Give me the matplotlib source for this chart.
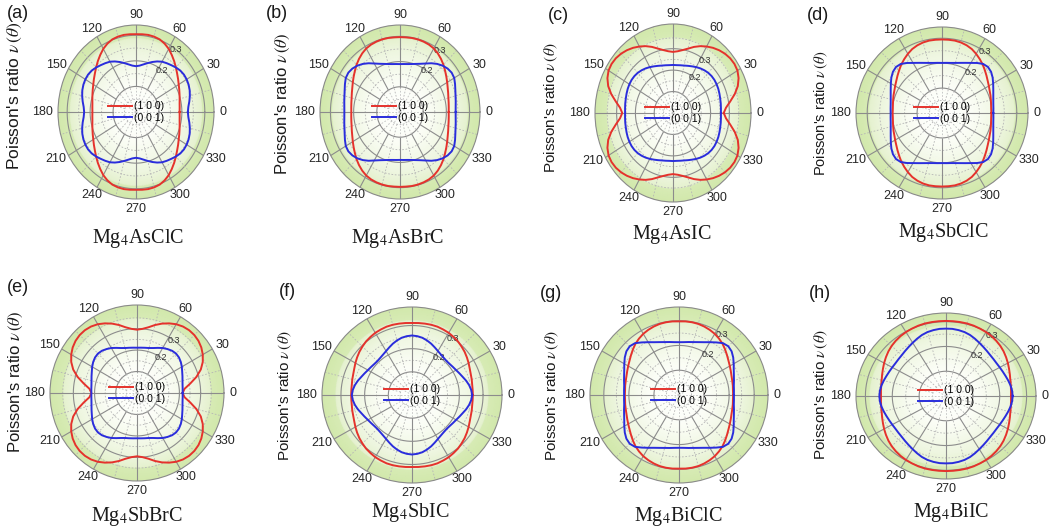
import numpy as np
import matplotlib.pyplot as plt
from matplotlib.colors import LinearSegmentedColormap

plt.rcParams['font.family'] = ['Liberation Sans', 'DejaVu Sans']
plt.rcParams['mathtext.fontset'] = 'stix'

W, H = 1053, 531

# angle grid of the first quadrant (deg); the other quadrants follow by mirror symmetry
angles = np.arange(0, 91, 5)

# Poisson's ratio nu(theta) for loading along (1 0 0) and (0 0 1)
a_100 = [0.190, 0.191, 0.193, 0.197, 0.202, 0.208, 0.215, 0.224, 0.234, 0.246,
         0.259, 0.272, 0.285, 0.295, 0.302, 0.305, 0.306, 0.305, 0.304]
a_001 = [0.226, 0.229, 0.236, 0.243, 0.249, 0.253, 0.255, 0.255, 0.252, 0.246,
         0.239, 0.233, 0.227, 0.218, 0.208, 0.198, 0.189, 0.182, 0.179]
b_100 = [0.210, 0.211, 0.213, 0.216, 0.221, 0.227, 0.235, 0.244, 0.254, 0.265,
         0.275, 0.284, 0.291, 0.295, 0.297, 0.298, 0.298, 0.297, 0.297]
b_001 = [0.240, 0.241, 0.244, 0.248, 0.254, 0.262, 0.270, 0.272, 0.268, 0.260,
         0.249, 0.236, 0.222, 0.211, 0.203, 0.197, 0.193, 0.191, 0.190]
c_100 = [0.270, 0.283, 0.309, 0.340, 0.367, 0.385, 0.396, 0.399, 0.397, 0.391,
         0.382, 0.371, 0.358, 0.344, 0.328, 0.311, 0.298, 0.289, 0.285]
c_001 = [0.255, 0.256, 0.258, 0.260, 0.263, 0.266, 0.268, 0.269, 0.268, 0.265,
         0.260, 0.254, 0.247, 0.240, 0.234, 0.229, 0.226, 0.224, 0.224]
d_100 = [0.198, 0.198, 0.200, 0.203, 0.207, 0.211, 0.217, 0.224, 0.233, 0.243,
         0.254, 0.264, 0.274, 0.283, 0.289, 0.293, 0.295, 0.295, 0.295]
d_001 = [0.206, 0.207, 0.209, 0.213, 0.219, 0.227, 0.237, 0.248, 0.257, 0.261,
         0.257, 0.245, 0.232, 0.222, 0.214, 0.208, 0.204, 0.202, 0.201]
e_100 = [0.215, 0.225, 0.255, 0.290, 0.320, 0.342, 0.358, 0.370, 0.378, 0.382,
         0.382, 0.378, 0.370, 0.358, 0.344, 0.328, 0.311, 0.300, 0.295]
e_001 = [0.215, 0.216, 0.218, 0.222, 0.228, 0.235, 0.244, 0.252, 0.258, 0.260,
         0.257, 0.250, 0.242, 0.232, 0.223, 0.217, 0.214, 0.212, 0.211]
f_100 = [0.257, 0.257, 0.258, 0.261, 0.264, 0.269, 0.276, 0.283, 0.290, 0.296,
         0.302, 0.306, 0.310, 0.312, 0.314, 0.314, 0.313, 0.312, 0.311]
f_001 = [0.254, 0.251, 0.245, 0.237, 0.228, 0.221, 0.215, 0.211, 0.208, 0.207,
         0.209, 0.213, 0.219, 0.227, 0.236, 0.244, 0.251, 0.255, 0.257]
g_100 = [0.216, 0.216, 0.218, 0.220, 0.223, 0.228, 0.234, 0.241, 0.250, 0.260,
         0.270, 0.278, 0.285, 0.290, 0.294, 0.297, 0.298, 0.298, 0.297]
g_001 = [0.219, 0.220, 0.222, 0.227, 0.233, 0.241, 0.252, 0.264, 0.274, 0.278,
         0.273, 0.259, 0.246, 0.235, 0.227, 0.221, 0.217, 0.214, 0.213]
h_100 = [0.242, 0.243, 0.245, 0.248, 0.253, 0.259, 0.266, 0.273, 0.280, 0.286,
         0.291, 0.295, 0.298, 0.300, 0.302, 0.303, 0.303, 0.303, 0.303]
h_001 = [0.248, 0.247, 0.244, 0.240, 0.236, 0.233, 0.231, 0.230, 0.231, 0.233,
         0.237, 0.242, 0.248, 0.255, 0.262, 0.267, 0.270, 0.272, 0.272]

tags = ['(a)', '(b)', '(c)', '(d)', '(e)', '(f)', '(g)', '(h)']
names = ['Mg$_4$AsClC', 'Mg$_4$AsBrC', 'Mg$_4$AsIC', 'Mg$_4$SbClC',
         'Mg$_4$SbBrC', 'Mg$_4$SbIC', 'Mg$_4$BiClC', 'Mg$_4$BiIC']
r_max = [0.34, 0.345, 0.415, 0.345, 0.41, 0.38, 0.355, 0.335]
curves = [(a_100, a_001), (b_100, b_001), (c_100, c_001), (d_100, d_001),
          (e_100, e_001), (f_100, f_001), (g_100, g_001), (h_100, h_001)]

# layout in pixels: circle centre / half axes, y-label, tag and title positions
boxes = [(136, 112, 78, 87), (400, 112, 80, 87), (673, 113, 78, 89), (942, 113, 86, 86),
         (137, 393, 87, 88), (412, 395, 90, 88), (679, 395, 89, 88), (946, 396, 90, 83)]
ylab_pos = [(15, 96), (283, 104), (551, 108), (821, 113),
            (16, 382), (285, 396), (552, 396), (821, 395)]
ylab_size = [12.5, 12, 11, 10.5, 12, 11, 11, 11]
tag_pos = [(18, 14), (277, 14), (558, 15), (818, 15),
           (18, 287), (287, 291), (551, 293), (820, 294)]
title_pos = [(138, 238), (398, 238), (672, 235), (943, 233),
             (137, 517), (410, 513), (678, 517), (951, 512)]

RED = '#e5322c'
BLUE = '#2a2ddc'
bg = LinearSegmentedColormap.from_list(
    'bg', [(0, '#ffffff'), (0.35, '#fbfdf6'), (0.7, '#eef6e0'),
           (0.855, '#e5f1cf'), (0.86, '#d7ebb5'), (1, '#d2e8ac')])


def full_turn(q):
    q = np.asarray(q)
    r = np.concatenate([q, q[-2::-1], q[1:], q[-2::-1]])
    th = np.deg2rad(np.arange(0, 361, 5))
    return th, r


fig = plt.figure(figsize=(W / 100, H / 100), dpi=100)

for i in range(8):
    cx, cy, rx, ry = boxes[i]
    rm = r_max[i]
    ax = fig.add_axes([(cx - rx) / W, 1 - (cy + ry) / H, 2 * rx / W, 2 * ry / H],
                      projection='polar')
    ax.set_aspect('auto')
    ax.set_ylim(0, rm)
    ax.grid(False)
    ax.set_xticks([])
    ax.set_yticks([])
    ax.spines['polar'].set_color('#8a8a8a')
    ax.spines['polar'].set_linewidth(0.8)

    # radial shading
    T, R = np.meshgrid(np.linspace(0, 2 * np.pi, 181), np.linspace(0, rm, 80))
    ax.pcolormesh(T, R, R / rm, cmap=bg, shading='gouraud', zorder=0)

    # grid rings and spokes
    ring = np.linspace(0, 2 * np.pi, 361)
    for k in range(1, 9):
        r = 0.05 * k
        if r >= rm - 0.03:
            break
        if k % 2 == 0:
            ax.plot(ring, np.full_like(ring, r), color='#8c8c8c', lw=0.8, zorder=1)
        else:
            ax.plot(ring, np.full_like(ring, r), color='#b5b5b5', lw=0.6,
                    ls=(0, (2, 2)), zorder=1)
    for deg in range(0, 360, 15):
        t = np.deg2rad(deg)
        if deg % 30 == 0:
            ax.plot([t, t], [0.1, rm], color='#8c8c8c', lw=0.8, zorder=1)
            ax.plot([t, t], [0, 0.1], color='#c0c0c0', lw=0.6, ls=(0, (2, 2)), zorder=1)
        else:
            ax.plot([t, t], [0.05, rm], color='#b5b5b5', lw=0.6, ls=(0, (2, 2)), zorder=1)

    for val in (0.2, 0.3):
        ax.text(np.deg2rad(55), val, f'{val:.1f}', fontsize=6.5, ha='center',
                va='center', color='#333333', zorder=3)

    red, blue = curves[i]
    th, r = full_turn(red)
    ax.plot(th, r, color=RED, lw=1.4, label='(1 0 0)', zorder=4)
    th, r = full_turn(blue)
    ax.plot(th, r, color=BLUE, lw=1.4, label='(0 0 1)', zorder=4)
    ax.legend(loc='center', frameon=False, fontsize=7.5, handlelength=2.3,
              handletextpad=0.2, labelspacing=0.15, borderpad=0)

    # angle labels outside the rim, gap measured from the text edge
    for deg in range(0, 360, 30):
        t = np.deg2rad(deg)
        lab = str(deg)
        hw = 3.1 * len(lab)
        x = 0.5 + np.cos(t) * (rx + 6 + hw * abs(np.cos(t))) / (2 * rx)
        y = 0.5 + np.sin(t) * (ry + 5 + 5 * abs(np.sin(t))) / (2 * ry)
        ax.text(x, y, lab, transform=ax.transAxes, fontsize=9,
                ha='center', va='center', color='#262626')

    lx, ly = ylab_pos[i]
    fig.text(lx / W, 1 - ly / H, "Poisson's ratio $\\nu\\,(\\theta)$", rotation=90,
             fontsize=ylab_size[i], ha='center', va='center', color='#1a1a1a')
    tx, ty = tag_pos[i]
    fig.text(tx / W, 1 - ty / H, tags[i], fontsize=13, ha='center', va='center',
             color='#1a1a1a')
    nx, ny = title_pos[i]
    fig.text(nx / W, 1 - ny / H, names[i], fontsize=14.5, ha='center', va='center',
             family='Liberation Serif', color='#1a1a1a')

fig.savefig('out.png', dpi=100)
